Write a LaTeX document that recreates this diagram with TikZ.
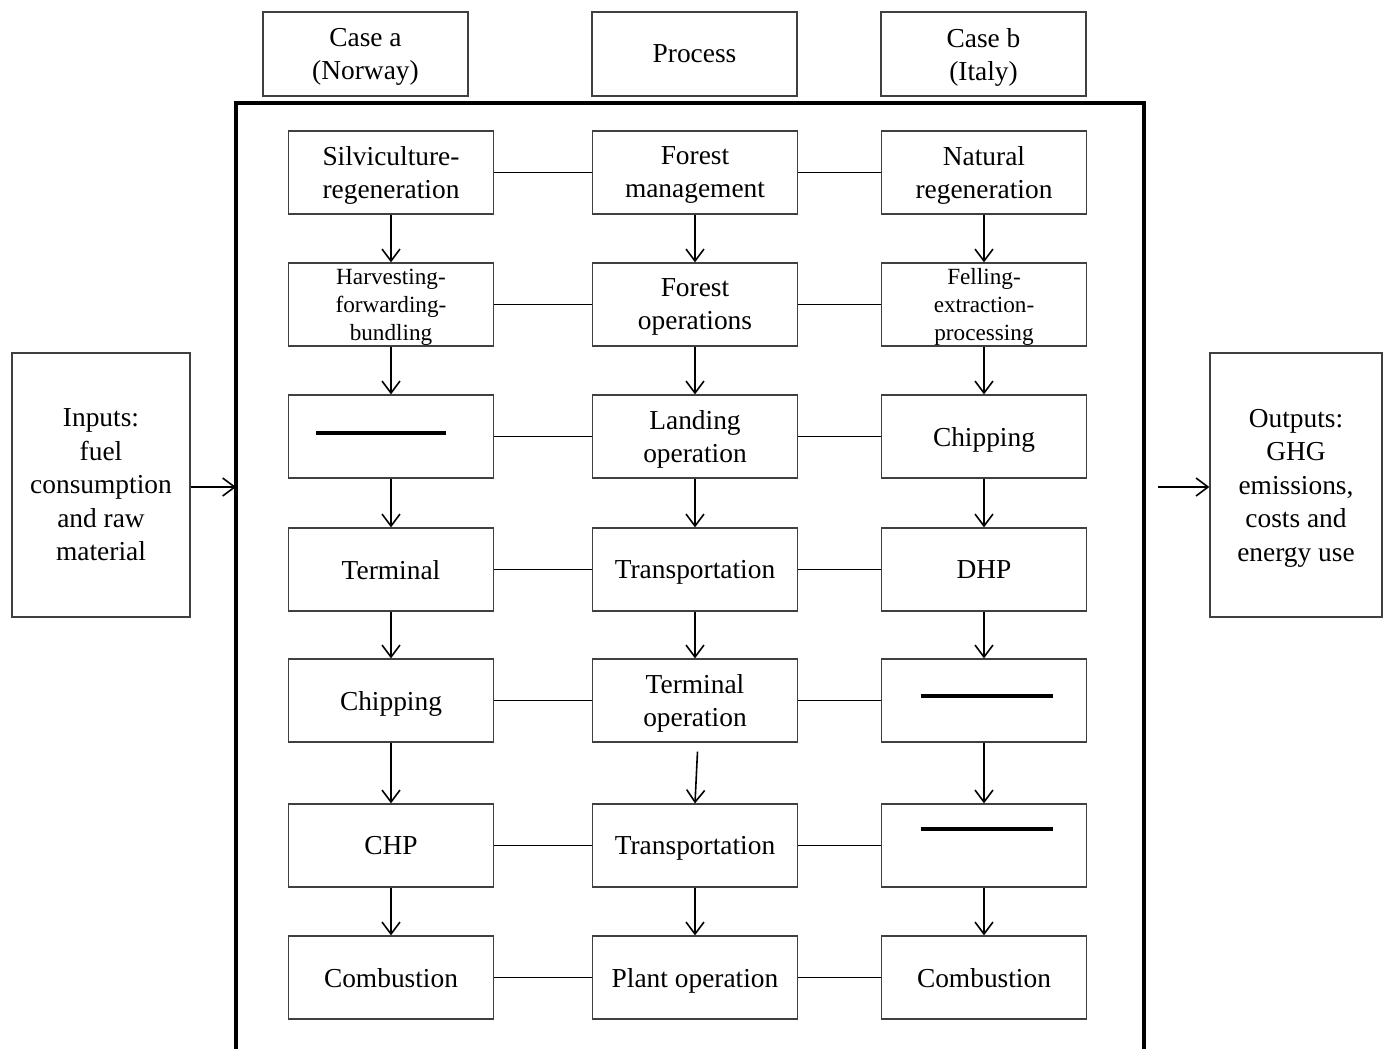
\documentclass[tikz,border=0pt]{standalone}
\usepackage{fontspec}
\setmainfont{Liberation Serif}
\usetikzlibrary{positioning}
\usetikzlibrary{arrows.meta}

\begin{document}
\begin{tikzpicture}
[
x=0.5pt, y=-0.5pt,
box-a/.style={rectangle,draw=black!75,line width=0.6pt,minimum width=102.5pt,minimum height=41.5pt,align=center,inner sep=1pt,
  text depth=0pt,font=\fontsize{13.7}{16.5}\selectfont},
box-b/.style={box-a,font=\fontsize{11.6}{14}\selectfont},
head-a/.style={box-a,minimum height=42pt},
side-a/.style={box-a,minimum width=89pt,minimum height=132pt,font=\fontsize{13.7}{16.75}\selectfont},
arrow-a/.style={-{Straight Barb[length=6pt,width=9pt]},line width=0.8pt},
line-a/.style={line width=0.8pt},
frame-a/.style={line width=2pt},
bar-a/.style={line width=2pt},
]
\useasboundingbox (0,0) rectangle (1389,1049);
% headers
\node (ha) [head-a] at (365.5,54)         {Case a\\(Norway)};
\node (hp) [head-a, right = 61.4pt of ha] {Process};
\node (hb) [head-a, right = 41.4pt of hp] {Case b\\(Italy)};
% frame
\draw [frame-a] (236,1049) -- (236,103) -- (1144,103) -- (1144,1049);
\coordinate (f1) at (236,487);
\coordinate (f2) at (1158,487);
% inputs and outputs
\node (in)  [side-a] at (101,485)  {Inputs:\\fuel\\consumption\\and raw\\material};
\node (out) [side-a, minimum width=86pt] at (1296,485) {Outputs:\\GHG\\emissions,\\costs and\\energy use};
% rows
\node (a1) [box-a] at (391,172.5)          {Silviculture-\\regeneration};
\node (p1) [box-a, right = 48.9pt of a1]   {Forest\\management};
\node (b1) [box-a, right = 41.4pt of p1]   {Natural\\regeneration};
\node (a2) [box-b, below = 23.9pt of a1]   {Harvesting-\\forwarding-\\bundling};
\node (p2) [box-a, right = 48.9pt of a2]   {Forest\\operations};
\node (b2) [box-b, right = 41.4pt of p2]   {Felling-\\extraction-\\processing};
\node (a3) [box-a, below = 23.9pt of a2]   {};
\node (p3) [box-a, right = 48.9pt of a3]   {Landing\\operation};
\node (b3) [box-a, right = 41.4pt of p3]   {Chipping};
\node (a4) [box-a, below = 24.4pt of a3]   {Terminal};
\node (p4) [box-a, right = 48.9pt of a4]   {Transportation};
\node (b4) [box-a, right = 41.4pt of p4]   {DHP};
\node (a5) [box-a, below = 23.4pt of a4]   {Chipping};
\node (p5) [box-a, right = 48.9pt of a5]   {Terminal\\operation};
\node (b5) [box-a, right = 41.4pt of p5]   {};
\node (a6) [box-a, below = 30.4pt of a5]   {CHP};
\node (p6) [box-a, right = 48.9pt of a6]   {Transportation};
\node (b6) [box-a, right = 41.4pt of p6]   {};
\node (a7) [box-a, below = 23.9pt of a6]   {Combustion};
\node (p7) [box-a, right = 48.9pt of a7]   {Plant operation};
\node (b7) [box-a, right = 41.4pt of p7]   {Combustion};
% empty steps
\draw [bar-a] ([xshift=-37.5pt,yshift=2pt]a3.center) -- ++(65pt,0);
\draw [bar-a] ([xshift=-31.75pt,yshift=2.25pt]b5.center) -- ++(66pt,0);
\draw [bar-a] ([xshift=-31.75pt,yshift=8.25pt]b6.center) -- ++(66pt,0);
% row links
\draw [line-a] (a1) -- (p1);
\draw [line-a] (p1) -- (b1);
\draw [line-a] (a2) -- (p2);
\draw [line-a] (p2) -- (b2);
\draw [line-a] (a3) -- (p3);
\draw [line-a] (p3) -- (b3);
\draw [line-a] (a4) -- (p4);
\draw [line-a] (p4) -- (b4);
\draw [line-a] (a5) -- (p5);
\draw [line-a] (p5) -- (b5);
\draw [line-a] (a6) -- (p6);
\draw [line-a] (p6) -- (b6);
\draw [line-a] (a7) -- (p7);
\draw [line-a] (p7) -- (b7);
% flow
\draw [arrow-a] (a1) -- (a2);
\draw [arrow-a] (a2) -- (a3);
\draw [arrow-a] (a3) -- (a4);
\draw [arrow-a] (a4) -- (a5);
\draw [arrow-a] (a5) -- (a6);
\draw [arrow-a] (a6) -- (a7);
\draw [arrow-a] (p1) -- (p2);
\draw [arrow-a] (p2) -- (p3);
\draw [arrow-a] (p3) -- (p4);
\draw [arrow-a] (p4) -- (p5);
\draw [arrow-a] ([xshift=1.25pt,yshift=-4.5pt]p5.south) -- (p6.north);
\draw [arrow-a] (p6) -- (p7);
\draw [arrow-a] (b1) -- (b2);
\draw [arrow-a] (b2) -- (b3);
\draw [arrow-a] (b3) -- (b4);
\draw [arrow-a] (b4) -- (b5);
\draw [arrow-a] (b5) -- (b6);
\draw [arrow-a] (b6) -- (b7);
\draw [arrow-a] (in.east |- f1) -- (f1);
\draw [arrow-a] (f2) -- (f2 -| out.west);
\end{tikzpicture}
\end{document}
